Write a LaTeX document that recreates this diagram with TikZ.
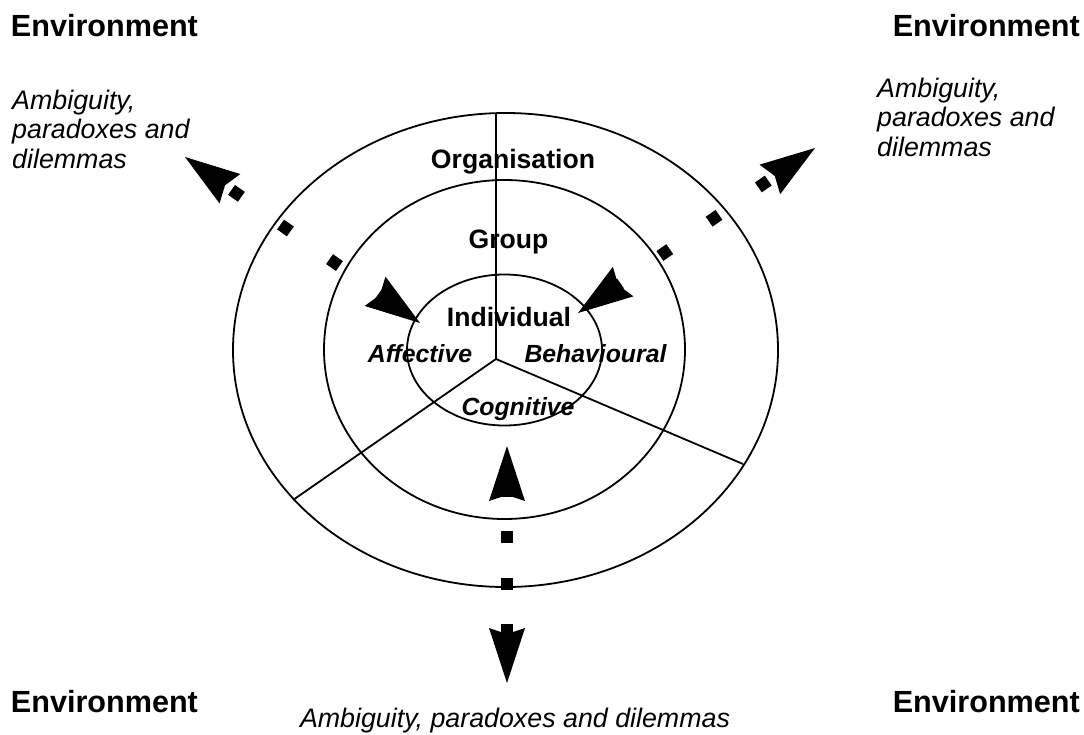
\documentclass[tikz,border=0pt]{standalone}
\usepackage{fontspec}
\setmainfont{Liberation Sans}
\usetikzlibrary{arrows.meta}
\begin{document}
\begin{tikzpicture}[x=1pt,y=-1pt,
  ring/.style={line width=1.8pt},
  divider/.style={line width=1.8pt},
  envlabel/.style={font=\fontsize{30.6}{36}\selectfont\bfseries, inner sep=0pt},
  tensionlabel/.style={font=\fontsize{26.8}{29.3}\selectfont\itshape, inner sep=0pt, align=left},
  levellabel/.style={font=\fontsize{26.6}{32}\selectfont\bfseries, inner sep=0pt, anchor=base},
  facetlabel/.style={font=\fontsize{24.8}{30}\selectfont\bfseries\itshape, inner sep=0pt, anchor=base},
  bigtip/.tip={Stealth[length=55pt 0 0,width=36pt 0 0,inset=6pt 0 0,line width=0pt 0 0]},
  tensionarrow/.style={line width=12pt, {bigtip}-{bigtip}},
]
\useasboundingbox (0,0) rectangle (1084,734);
% rings
\draw[ring] (505.5,350) ellipse [x radius=272.5pt, y radius=237pt];
\draw[ring] (504.5,349.5) ellipse [x radius=180.5pt, y radius=169.5pt];
\draw[ring] (504.5,350) ellipse [x radius=97.5pt, y radius=75.5pt];
% dividers
\coordinate (hub) at (496,359);
\coordinate (topend) at (496,113);
\coordinate (leftend) at (293,500);
\coordinate (rightend) at (743,464);
\draw[divider] (hub) -- (topend);
\draw[divider] (hub) -- (leftend);
\draw[divider] (hub) -- (rightend);
% labels
\node[envlabel, anchor=base west] (envtl) at (10.7,36.5) {Environment};
\node[envlabel, anchor=base east] (envtr) at (1080,36.5) {Environment};
\node[envlabel, anchor=base west] (envbl) at (10.7,712) {Environment};
\node[envlabel, anchor=base east] (envbr) at (1080,712) {Environment};
\node[tensionlabel, anchor=north west] (tenstl) at (12,90) {Ambiguity,\\paradoxes and\\dilemmas};
\node[tensionlabel, anchor=north west] (tenstr) at (877,78) {Ambiguity,\\paradoxes and\\dilemmas};
\node[tensionlabel, anchor=base] (tensb) at (515,727) {Ambiguity, paradoxes and dilemmas};
\node[levellabel] (org) at (513,168) {Organisation};
\node[levellabel] (grp) at (508.5,248) {Group};
\node[levellabel] (ind) at (509,326) {Individual};
\node[facetlabel] (aff) at (420,362) {Affective};
\node[facetlabel] (beh) at (595.5,362) {Behavioural};
\node[facetlabel] (cog) at (518,415) {Cognitive};
% tension arrows
\coordinate (tlout) at (185,157);
\coordinate (tlin) at (420,323);
\coordinate (trout) at (815,148);
\coordinate (trin) at (578,313);
\coordinate (bout) at (507,683);
\coordinate (bin) at (507,446);
\draw[tensionarrow, dash pattern=on 12pt off 48pt, dash phase=52pt] (tlout) -- (tlin);
\draw[tensionarrow, dash pattern=on 12pt off 48pt, dash phase=52pt] (trout) -- (trin);
\draw[tensionarrow, dash pattern=on 12pt off 34.5pt, dash phase=2pt] (bout) -- (bin);
\end{tikzpicture}
\end{document}
